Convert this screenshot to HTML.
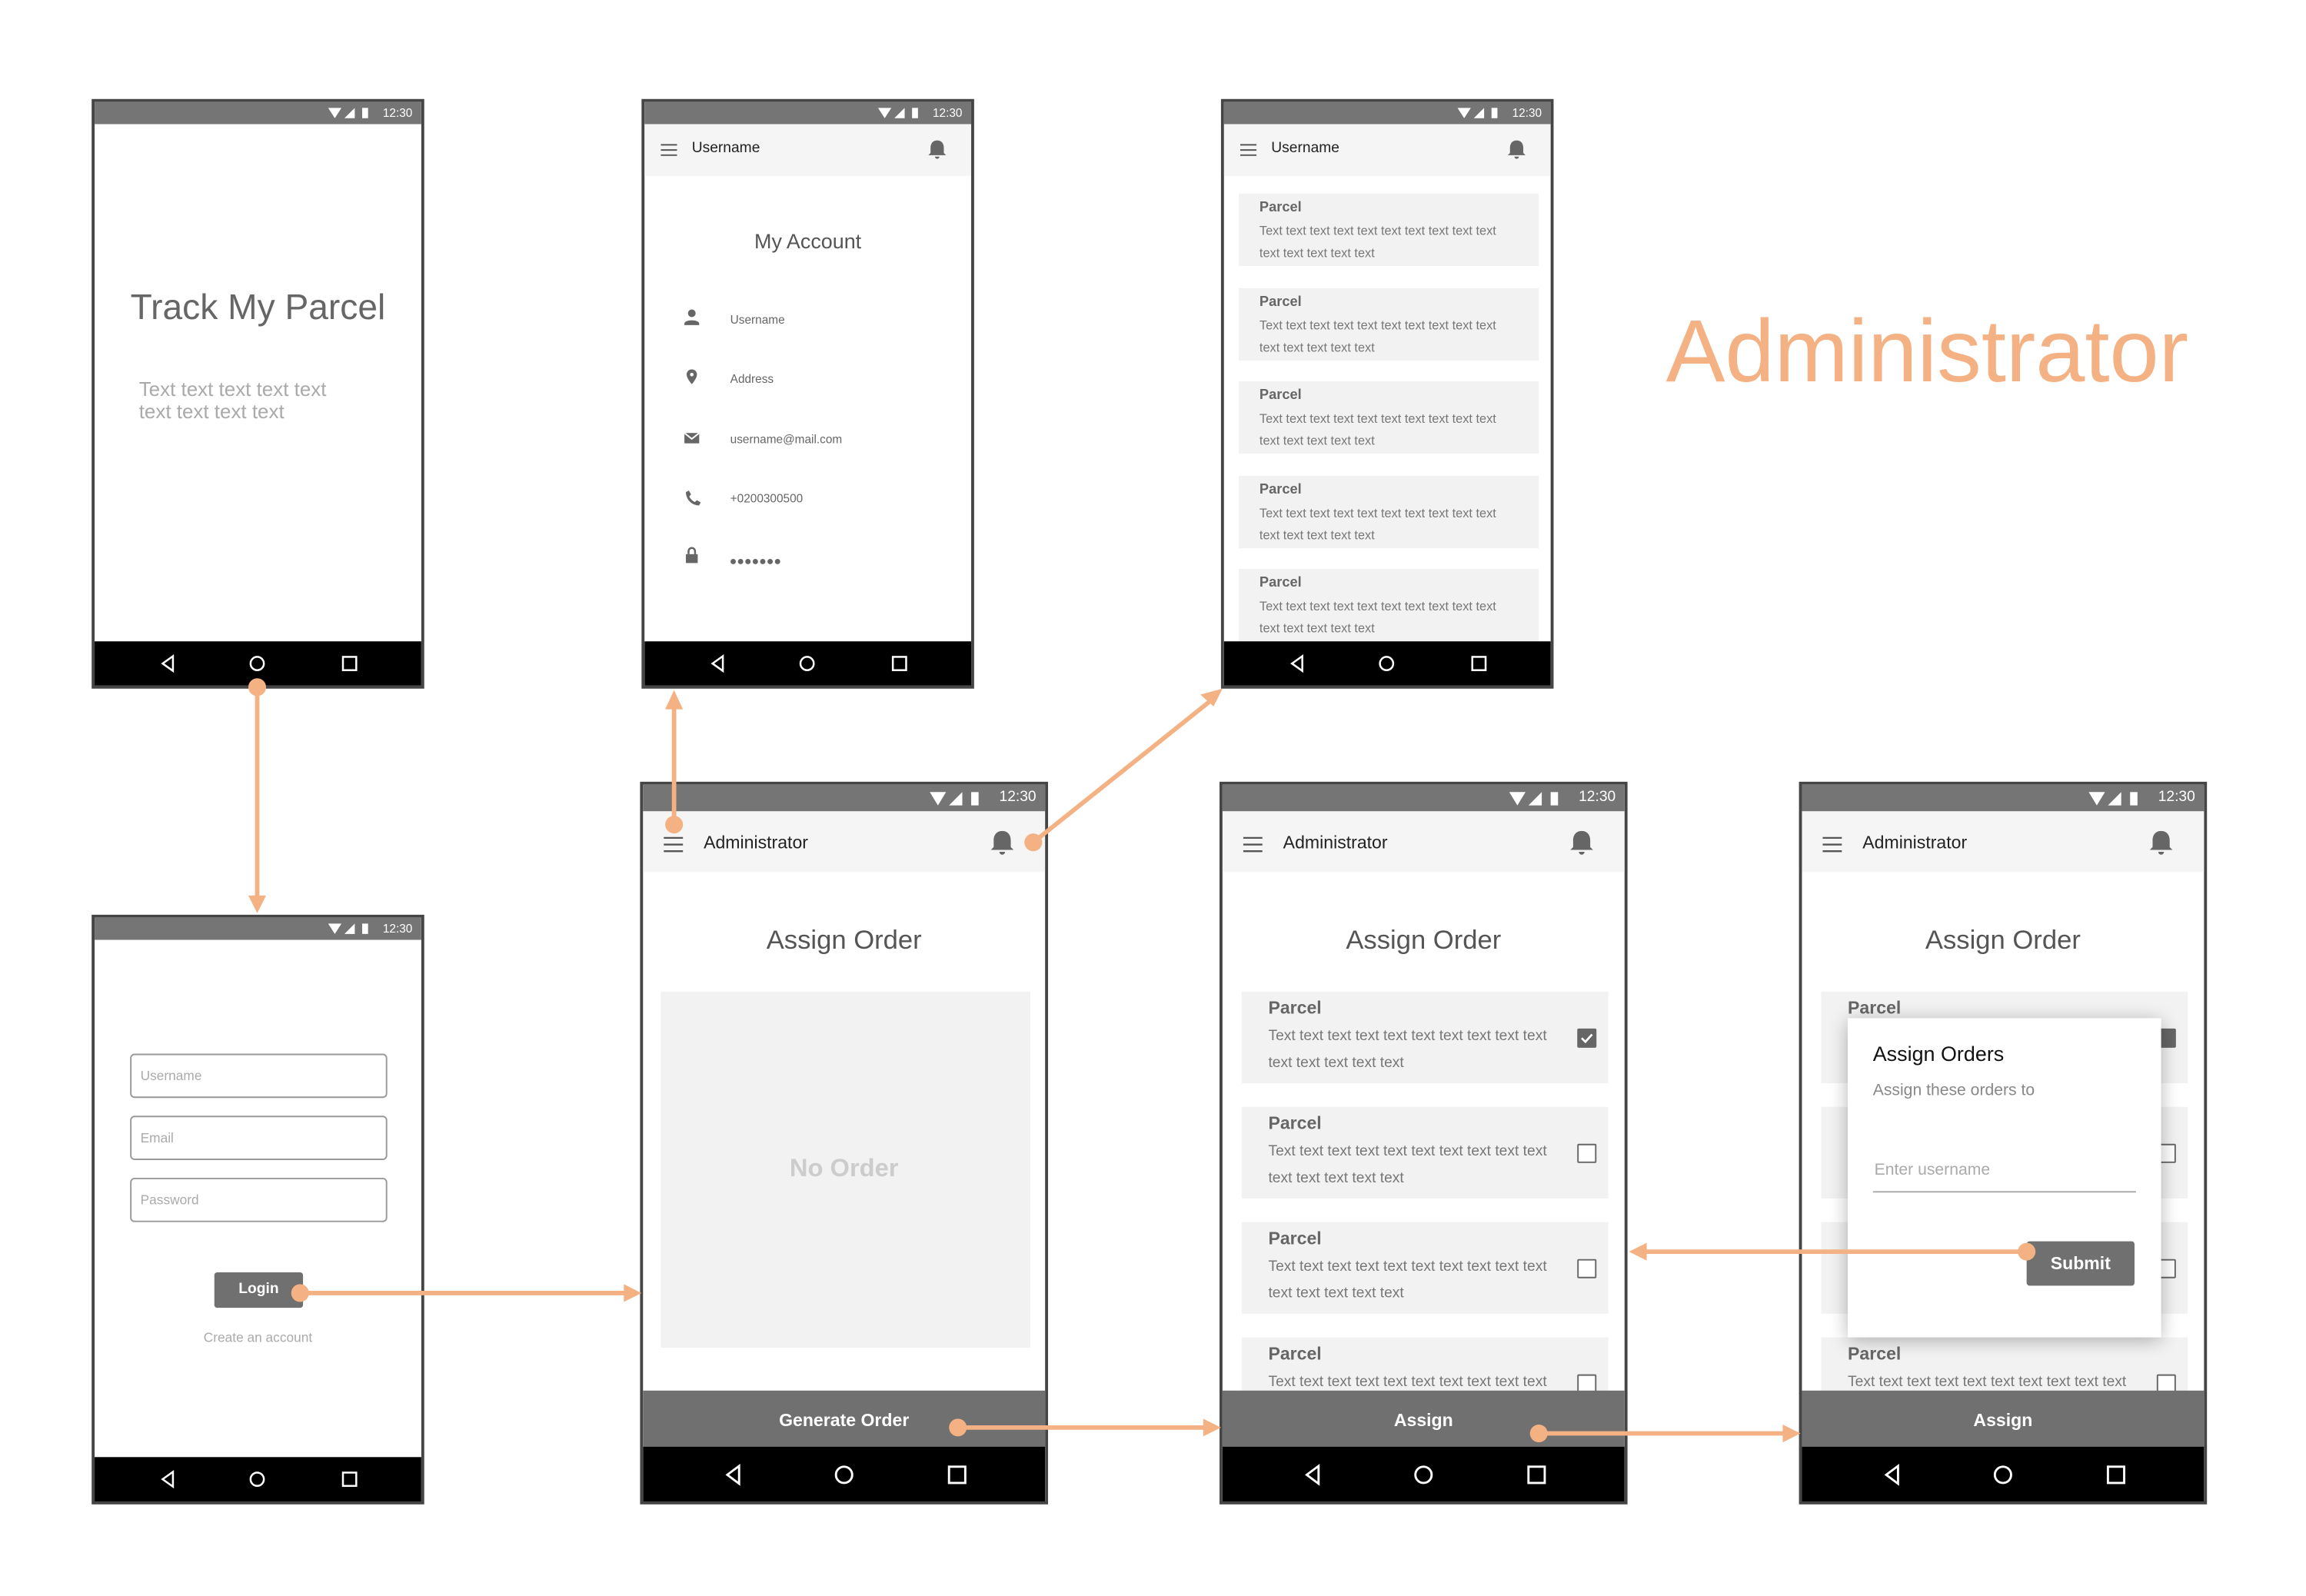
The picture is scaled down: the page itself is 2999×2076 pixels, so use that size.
<!DOCTYPE html>
<html><head><meta charset="utf-8"><style>
*{margin:0;padding:0;box-sizing:border-box}
html,body{width:2999px;height:2076px;overflow:hidden;background:#fff}
#w{position:absolute;left:0;top:0;width:1560px;height:1080px;transform:scale(1.92244,1.92222);transform-origin:0 0;font-family:"Liberation Sans",sans-serif}
.a{position:absolute}
.ph{position:absolute;background:#fff;border:2px solid #454545;overflow:hidden}
.sb{position:absolute;left:0;right:0;top:0;background:#757575;color:#fff;text-align:right}
.nav{position:absolute;left:0;right:0;bottom:0;background:#000}
.bar{position:absolute;left:0;right:0;background:#f5f5f5}
.card{position:absolute;background:#f2f2f2}
.t{position:absolute;white-space:nowrap}
.cb{position:absolute;width:13px;height:13px;border:1.5px solid #666;border-radius:1px;background:#fff}
</style></head><body><div id="w">

<!-- Phone 1 -->
<div class="ph" style="left:62px;top:67px;width:225px;height:399px">
 <div class="sb" style="height:15px;font-size:8px;line-height:15px;padding-right:6px">
  <svg class="a" style="left:158px;top:3px" width="34" height="9" viewBox="0 0 34 9"><path d="M0 1h9l-4.5 7z" fill="#fff"/><path d="M11 8l7-7v7z" fill="#fff"/><rect x="23" y="1" width="4" height="7" fill="#fff"/></svg>12:30</div>
 <div class="t" style="left:0;right:0;top:126px;text-align:center;font-size:24px;color:#666">Track My Parcel</div>
 <div class="t" style="left:30px;top:187px;font-size:13.5px;line-height:15px;color:#aaa">Text text text text text<br>text text text text</div>
 <div class="nav" style="height:30px"><svg width="221" height="30"><path d="M53 10l-7 5 7 5z" fill="none" stroke="#fff" stroke-width="1.3"/><circle cx="110" cy="15" r="4.5" fill="none" stroke="#fff" stroke-width="1.3"/><rect x="168" y="10.5" width="9" height="9" fill="none" stroke="#fff" stroke-width="1.3"/></svg></div>
</div>

<!-- Phone 2 My Account -->
<div class="ph" style="left:434px;top:67px;width:225px;height:399px">
 <div class="sb" style="height:15px;font-size:8px;line-height:15px;padding-right:6px">
  <svg class="a" style="left:158px;top:3px" width="34" height="9" viewBox="0 0 34 9"><path d="M0 1h9l-4.5 7z" fill="#fff"/><path d="M11 8l7-7v7z" fill="#fff"/><rect x="23" y="1" width="4" height="7" fill="#fff"/></svg>12:30</div>
 <div class="bar" style="top:15px;height:35px"><svg class="a" style="left:11px;top:13px" width="12" height="9"><path d="M0 1h11M0 4.5h11M0 8h11" stroke="#555" stroke-width="1"/></svg><div class="t" style="left:32px;top:11px;font-size:10px;color:#222">Username</div>
 <svg class="a" style="left:191px;top:10px" width="14" height="14" viewBox="0 0 14 14"><path d="M7 1c-3 0-4.5 2.2-4.5 5v3.5L1 11h12l-1.5-1.5V6C11.5 3.2 10 1 7 1zM5.5 12h3a1.5 1.5 0 0 1-3 0z" fill="#666"/></svg></div>
 <div class="t" style="left:0;right:0;top:86px;text-align:center;font-size:14px;color:#555">My Account</div>
 <svg class="a" style="left:26px;top:140px" width="12" height="175" viewBox="0 0 12 175">
  <circle cx="6" cy="3" r="2.6" fill="#666"/><path d="M1 10c0-3 10-3 10 0v1H1z" fill="#666"/>
  <path d="M6 41c-2 0-3.5 1.5-3.5 3.5C2.5 47 6 51 6 51s3.5-4 3.5-6.5C9.5 42.5 8 41 6 41z" fill="#666"/><circle cx="6" cy="44.5" r="1.2" fill="#fff"/>
  <rect x="1" y="84" width="10" height="7" fill="#666"/><path d="M1 84l5 4 5-4" stroke="#fff" stroke-width="1" fill="none"/>
  <path d="M2 124c0 5 4 9 9 9l1-2-2.5-1.5-1.5 1.2c-1.5-.7-3-2.2-3.7-3.7L5.5 125.5 4 123z" fill="#666"/>
  <rect x="2" y="166" width="8" height="6" fill="#666"/><path d="M3.8 166v-2a2.2 2.2 0 0 1 4.4 0v2" stroke="#666" stroke-width="1.3" fill="none"/>
 </svg>
 <div class="t" style="left:58px;top:143px;font-size:8px;color:#666">Username</div>
 <div class="t" style="left:58px;top:183px;font-size:8px;color:#666">Address</div>
 <div class="t" style="left:58px;top:224px;font-size:8px;color:#666">username@mail.com</div>
 <div class="t" style="left:58px;top:264px;font-size:8px;color:#666">+0200300500</div>
 <svg class="a" style="left:58px;top:308px" width="40" height="6"><g fill="#666"><circle cx="2" cy="3" r="1.8"/><circle cx="7" cy="3" r="1.8"/><circle cx="12" cy="3" r="1.8"/><circle cx="17" cy="3" r="1.8"/><circle cx="22" cy="3" r="1.8"/><circle cx="27" cy="3" r="1.8"/><circle cx="32" cy="3" r="1.8"/></g></svg>
 <div class="nav" style="height:30px"><svg width="221" height="30"><path d="M53 10l-7 5 7 5z" fill="none" stroke="#fff" stroke-width="1.3"/><circle cx="110" cy="15" r="4.5" fill="none" stroke="#fff" stroke-width="1.3"/><rect x="168" y="10.5" width="9" height="9" fill="none" stroke="#fff" stroke-width="1.3"/></svg></div>
</div>

<!-- Phone 3 list -->
<div class="ph" style="left:826px;top:67px;width:225px;height:399px">
 <div class="sb" style="height:15px;font-size:8px;line-height:15px;padding-right:6px">
  <svg class="a" style="left:158px;top:3px" width="34" height="9" viewBox="0 0 34 9"><path d="M0 1h9l-4.5 7z" fill="#fff"/><path d="M11 8l7-7v7z" fill="#fff"/><rect x="23" y="1" width="4" height="7" fill="#fff"/></svg>12:30</div>
 <div class="bar" style="top:15px;height:35px"><svg class="a" style="left:11px;top:13px" width="12" height="9"><path d="M0 1h11M0 4.5h11M0 8h11" stroke="#555" stroke-width="1"/></svg><div class="t" style="left:32px;top:11px;font-size:10px;color:#222">Username</div>
 <svg class="a" style="left:191px;top:10px" width="14" height="14" viewBox="0 0 14 14"><path d="M7 1c-3 0-4.5 2.2-4.5 5v3.5L1 11h12l-1.5-1.5V6C11.5 3.2 10 1 7 1zM5.5 12h3a1.5 1.5 0 0 1-3 0z" fill="#666"/></svg></div>
 <div class="card" style="left:10px;top:62px;width:203px;height:49px"></div>
 <div class="card" style="left:10px;top:126px;width:203px;height:49px"></div>
 <div class="card" style="left:10px;top:189px;width:203px;height:49px"></div>
 <div class="card" style="left:10px;top:253px;width:203px;height:49px"></div>
 <div class="card" style="left:10px;top:316px;width:203px;height:49px"></div>
 <div class="t" style="left:24px;top:66px;font-size:9.5px;font-weight:bold;color:#666;line-height:11px">Parcel</div><div class="t" style="left:24px;top:80px;font-size:8.5px;color:#777;line-height:15px">Text text text text text text text text text text<br>text text text text text</div>
 <div class="t" style="left:24px;top:130px;font-size:9.5px;font-weight:bold;color:#666;line-height:11px">Parcel</div><div class="t" style="left:24px;top:144px;font-size:8.5px;color:#777;line-height:15px">Text text text text text text text text text text<br>text text text text text</div>
 <div class="t" style="left:24px;top:193px;font-size:9.5px;font-weight:bold;color:#666;line-height:11px">Parcel</div><div class="t" style="left:24px;top:207px;font-size:8.5px;color:#777;line-height:15px">Text text text text text text text text text text<br>text text text text text</div>
 <div class="t" style="left:24px;top:257px;font-size:9.5px;font-weight:bold;color:#666;line-height:11px">Parcel</div><div class="t" style="left:24px;top:271px;font-size:8.5px;color:#777;line-height:15px">Text text text text text text text text text text<br>text text text text text</div>
 <div class="t" style="left:24px;top:320px;font-size:9.5px;font-weight:bold;color:#666;line-height:11px">Parcel</div><div class="t" style="left:24px;top:334px;font-size:8.5px;color:#777;line-height:15px">Text text text text text text text text text text<br>text text text text text</div>
 <div class="nav" style="height:30px"><svg width="221" height="30"><path d="M53 10l-7 5 7 5z" fill="none" stroke="#fff" stroke-width="1.3"/><circle cx="110" cy="15" r="4.5" fill="none" stroke="#fff" stroke-width="1.3"/><rect x="168" y="10.5" width="9" height="9" fill="none" stroke="#fff" stroke-width="1.3"/></svg></div>
</div>

<div class="t" style="left:1127px;top:203px;font-size:60px;line-height:70px;color:#f4b183">Administrator</div>

<!-- Phone 4 login -->
<div class="ph" style="left:62px;top:619px;width:225px;height:399px">
 <div class="sb" style="height:15px;font-size:8px;line-height:15px;padding-right:6px">
  <svg class="a" style="left:158px;top:3px" width="34" height="9" viewBox="0 0 34 9"><path d="M0 1h9l-4.5 7z" fill="#fff"/><path d="M11 8l7-7v7z" fill="#fff"/><rect x="23" y="1" width="4" height="7" fill="#fff"/></svg>12:30</div>
 <div class="a" style="left:24px;top:92px;width:174px;height:30px;border:1px solid #999;border-radius:3px;font-size:9px;color:#aaa;padding:9px 0 0 6px">Username</div>
 <div class="a" style="left:24px;top:134px;width:174px;height:30px;border:1px solid #999;border-radius:3px;font-size:9px;color:#aaa;padding:9px 0 0 6px">Email</div>
 <div class="a" style="left:24px;top:176px;width:174px;height:30px;border:1px solid #999;border-radius:3px;font-size:9px;color:#aaa;padding:9px 0 0 6px">Password</div>
 <div class="a" style="left:81px;top:240px;width:60px;height:24px;background:#707070;border-radius:2px;color:#fff;font-size:10px;font-weight:bold;text-align:center;line-height:23px">Login</div>
 <div class="t" style="left:0;right:0;top:279px;text-align:center;font-size:9px;color:#aaa">Create an account</div>
 <div class="nav" style="height:30px"><svg width="221" height="30"><path d="M53 10l-7 5 7 5z" fill="none" stroke="#fff" stroke-width="1.3"/><circle cx="110" cy="15" r="4.5" fill="none" stroke="#fff" stroke-width="1.3"/><rect x="168" y="10.5" width="9" height="9" fill="none" stroke="#fff" stroke-width="1.3"/></svg></div>
</div>

<!-- Phone 5 -->
<div class="ph" style="left:433px;top:529px;width:276px;height:489px">
 <div class="sb" style="height:18px;font-size:10px;line-height:18px;padding-right:6px">
  <svg class="a" style="left:194px;top:4px" width="42" height="11" viewBox="0 0 42 11"><path d="M0 1h11l-5.5 9z" fill="#fff"/><path d="M13 10l9-9v9z" fill="#fff"/><rect x="28" y="1" width="5" height="9" fill="#fff"/></svg>12:30</div>
 <div class="bar" style="top:18px;height:41px"><svg class="a" style="left:14px;top:17px" width="14" height="11"><path d="M0 1h13M0 5.5h13M0 10h13" stroke="#555" stroke-width="1.2"/></svg><div class="t" style="left:41px;top:14px;font-size:12px;color:#222">Administrator</div>
 <svg class="a" style="left:234px;top:12px" width="18" height="18" viewBox="0 0 14 14"><path d="M7 1c-3 0-4.5 2.2-4.5 5v3.5L1 11h12l-1.5-1.5V6C11.5 3.2 10 1 7 1zM5.5 12h3a1.5 1.5 0 0 1-3 0z" fill="#666"/></svg></div>
 <div class="t" style="left:0;right:0;top:95px;text-align:center;font-size:18px;color:#555">Assign Order</div>
 <div class="card" style="left:12px;top:140px;width:250px;height:241px"></div>
 <div class="t" style="left:0;right:0;top:250px;text-align:center;font-size:17px;font-weight:bold;color:#ccc">No Order</div>
 <div class="a" style="left:0;right:0;top:410px;height:40px;background:#707070;color:#fff;font-size:12px;font-weight:bold;text-align:center;line-height:40px">Generate Order</div>
 <div class="nav" style="height:37px"><svg width="273" height="37"><path d="M65 13l-8 6 8 6z" fill="none" stroke="#fff" stroke-width="1.5"/><circle cx="136" cy="19" r="5.5" fill="none" stroke="#fff" stroke-width="1.5"/><rect x="207" y="13.5" width="11" height="11" fill="none" stroke="#fff" stroke-width="1.5"/></svg></div>
</div>

<!-- Phone 6 -->
<div class="ph" style="left:825px;top:529px;width:276px;height:489px">
 <div class="sb" style="height:18px;font-size:10px;line-height:18px;padding-right:6px">
  <svg class="a" style="left:194px;top:4px" width="42" height="11" viewBox="0 0 42 11"><path d="M0 1h11l-5.5 9z" fill="#fff"/><path d="M13 10l9-9v9z" fill="#fff"/><rect x="28" y="1" width="5" height="9" fill="#fff"/></svg>12:30</div>
 <div class="bar" style="top:18px;height:41px"><svg class="a" style="left:14px;top:17px" width="14" height="11"><path d="M0 1h13M0 5.5h13M0 10h13" stroke="#555" stroke-width="1.2"/></svg><div class="t" style="left:41px;top:14px;font-size:12px;color:#222">Administrator</div>
 <svg class="a" style="left:234px;top:12px" width="18" height="18" viewBox="0 0 14 14"><path d="M7 1c-3 0-4.5 2.2-4.5 5v3.5L1 11h12l-1.5-1.5V6C11.5 3.2 10 1 7 1zM5.5 12h3a1.5 1.5 0 0 1-3 0z" fill="#666"/></svg></div>
 <div class="t" style="left:0;right:0;top:95px;text-align:center;font-size:18px;color:#555">Assign Order</div>
 <div class="card" style="left:13px;top:140px;width:248px;height:62px"></div>
 <div class="card" style="left:13px;top:218px;width:248px;height:62px"></div>
 <div class="card" style="left:13px;top:296px;width:248px;height:62px"></div>
 <div class="card" style="left:13px;top:374px;width:248px;height:62px"></div>
 <div class="t" style="left:31px;top:144px;font-size:12px;font-weight:bold;color:#666">Parcel</div><div class="t" style="left:31px;top:162px;font-size:10px;color:#777;line-height:18px">Text text text text text text text text text text<br>text text text text text</div><div class="cb" style="left:240px;top:165px;background:#666"><svg class="a" style="left:0;top:0" width="11" height="11"><path d="M2 5.5l2.5 2.5 4.5-5" stroke="#fff" stroke-width="1.4" fill="none"/></svg></div>
 <div class="t" style="left:31px;top:222px;font-size:12px;font-weight:bold;color:#666">Parcel</div><div class="t" style="left:31px;top:240px;font-size:10px;color:#777;line-height:18px">Text text text text text text text text text text<br>text text text text text</div><div class="cb" style="left:240px;top:243px"></div>
 <div class="t" style="left:31px;top:300px;font-size:12px;font-weight:bold;color:#666">Parcel</div><div class="t" style="left:31px;top:318px;font-size:10px;color:#777;line-height:18px">Text text text text text text text text text text<br>text text text text text</div><div class="cb" style="left:240px;top:321px"></div>
 <div class="t" style="left:31px;top:378px;font-size:12px;font-weight:bold;color:#666">Parcel</div><div class="t" style="left:31px;top:396px;font-size:10px;color:#777;line-height:18px">Text text text text text text text text text text</div><div class="cb" style="left:240px;top:399px"></div>
 <div class="a" style="left:0;right:0;top:410px;height:40px;background:#707070;color:#fff;font-size:12px;font-weight:bold;text-align:center;line-height:40px">Assign</div>
 <div class="nav" style="height:37px"><svg width="273" height="37"><path d="M65 13l-8 6 8 6z" fill="none" stroke="#fff" stroke-width="1.5"/><circle cx="136" cy="19" r="5.5" fill="none" stroke="#fff" stroke-width="1.5"/><rect x="207" y="13.5" width="11" height="11" fill="none" stroke="#fff" stroke-width="1.5"/></svg></div>
</div>

<!-- Phone 7 -->
<div class="ph" style="left:1217px;top:529px;width:276px;height:489px">
 <div class="sb" style="height:18px;font-size:10px;line-height:18px;padding-right:6px">
  <svg class="a" style="left:194px;top:4px" width="42" height="11" viewBox="0 0 42 11"><path d="M0 1h11l-5.5 9z" fill="#fff"/><path d="M13 10l9-9v9z" fill="#fff"/><rect x="28" y="1" width="5" height="9" fill="#fff"/></svg>12:30</div>
 <div class="bar" style="top:18px;height:41px"><svg class="a" style="left:14px;top:17px" width="14" height="11"><path d="M0 1h13M0 5.5h13M0 10h13" stroke="#555" stroke-width="1.2"/></svg><div class="t" style="left:41px;top:14px;font-size:12px;color:#222">Administrator</div>
 <svg class="a" style="left:234px;top:12px" width="18" height="18" viewBox="0 0 14 14"><path d="M7 1c-3 0-4.5 2.2-4.5 5v3.5L1 11h12l-1.5-1.5V6C11.5 3.2 10 1 7 1zM5.5 12h3a1.5 1.5 0 0 1-3 0z" fill="#666"/></svg></div>
 <div class="t" style="left:0;right:0;top:95px;text-align:center;font-size:18px;color:#555">Assign Order</div>
 <div class="card" style="left:13px;top:140px;width:248px;height:62px"></div>
 <div class="card" style="left:13px;top:218px;width:248px;height:62px"></div>
 <div class="card" style="left:13px;top:296px;width:248px;height:62px"></div>
 <div class="card" style="left:13px;top:374px;width:248px;height:62px"></div>
 <div class="t" style="left:31px;top:144px;font-size:12px;font-weight:bold;color:#666">Parcel</div><div class="cb" style="left:240px;top:165px;background:#666"></div>
 <div class="cb" style="left:240px;top:243px"></div>
 <div class="cb" style="left:240px;top:321px"></div>
 <div class="t" style="left:31px;top:378px;font-size:12px;font-weight:bold;color:#666">Parcel</div><div class="t" style="left:31px;top:396px;font-size:10px;color:#777;line-height:18px">Text text text text text text text text text text</div><div class="cb" style="left:240px;top:399px"></div>
 <div class="a" style="left:31px;top:158px;width:212px;height:216px;background:#fff;box-shadow:0 2px 12px rgba(0,0,0,.3)">
  <div class="t" style="left:17px;top:16px;font-size:14px;color:#111">Assign Orders</div>
  <div class="t" style="left:17px;top:43px;font-size:11px;color:#888">Assign these orders to</div>
  <div class="t" style="left:18px;top:97px;font-size:11px;color:#aaa">Enter username</div>
  <div class="a" style="left:17px;top:117px;width:178px;height:1px;background:#aaa"></div>
  <div class="a" style="left:121px;top:151px;width:73px;height:30px;background:#707070;border-radius:2px;color:#fff;font-size:12px;font-weight:bold;text-align:center;line-height:30px">Submit</div>
 </div>
 <div class="a" style="left:0;right:0;top:410px;height:40px;background:#707070;color:#fff;font-size:12px;font-weight:bold;text-align:center;line-height:40px">Assign</div>
 <div class="nav" style="height:37px"><svg width="273" height="37"><path d="M65 13l-8 6 8 6z" fill="none" stroke="#fff" stroke-width="1.5"/><circle cx="136" cy="19" r="5.5" fill="none" stroke="#fff" stroke-width="1.5"/><rect x="207" y="13.5" width="11" height="11" fill="none" stroke="#fff" stroke-width="1.5"/></svg></div>
</div>

<!-- connectors -->
<svg class="a" style="left:0;top:0" width="1560" height="1080">
 <g stroke="#f4b183" stroke-width="3" fill="none">
  <path d="M174 466V608"/>
  <path d="M203 875H424"/>
  <path d="M456 558V478"/>
  <path d="M699 570L818 475"/>
  <path d="M648 966H816"/>
  <path d="M1041 970H1208"/>
  <path d="M1371 847H1112"/>
 </g>
 <g fill="#f4b183">
  <circle cx="174" cy="465" r="6"/><path d="M168 606h12l-6 12z"/>
  <circle cx="203" cy="875" r="6"/><path d="M422 869v12l12-6z"/>
  <circle cx="456" cy="558" r="6"/><path d="M450 480h12l-6-13z"/>
  <circle cx="699" cy="570" r="6"/><path d="M812 470l9 8 6-12z"/>
  <circle cx="648" cy="966" r="6"/><path d="M814 960v12l12-6z"/>
  <circle cx="1041" cy="970" r="6"/><path d="M1206 964v12l12-6z"/>
  <circle cx="1371" cy="847" r="6"/><path d="M1114 841v12l-12-6z"/>
 </g>
</svg>
</div></body></html>
